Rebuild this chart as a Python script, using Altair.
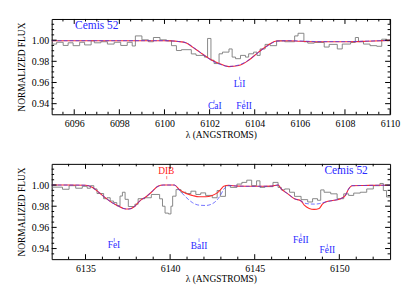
import altair as alt
import pandas as pd

FONT = "'Liberation Serif', 'Times New Roman', Times, serif"
W, H = 341, 96
Y_DOMAIN = [0.93, 1.02]
Y_MAJOR = [0.94, 0.96, 0.98, 1.00]
Y_MINOR = [0.935, 0.945, 0.95, 0.955, 0.965, 0.97, 0.975, 0.985, 0.99, 0.995, 1.005, 1.01, 1.015]

# ---------------- top panel (6095-6110) ----------------
top_xdom = [6095, 6110]
top_xmajor = [6096, 6098, 6100, 6102, 6104, 6106, 6108, 6110]
top_xminor = [6095.5, 6096.5, 6097, 6097.5, 6098.5, 6099, 6099.5, 6100.5, 6101, 6101.5,
              6102.5, 6103, 6103.5, 6104.5, 6105, 6105.5, 6106.5, 6107, 6107.5, 6108.5,
              6109, 6109.5]

top_gray_w = [6095.0, 6095.22, 6095.51, 6095.73, 6095.95, 6096.24, 6096.46, 6096.75, 6096.89,
              6097.18, 6097.47, 6097.77, 6098.06, 6098.35, 6098.57, 6098.71, 6099.0, 6099.29,
              6099.51, 6099.80, 6100.09, 6100.31, 6100.53, 6100.75, 6101.19, 6101.40, 6101.77,
              6101.91, 6102.06, 6102.20, 6102.42, 6102.57, 6102.86, 6103.0, 6103.15, 6103.37,
              6103.59, 6103.73, 6103.95, 6104.10, 6104.24, 6104.46, 6104.68, 6104.97, 6105.33,
              6105.77, 6105.92, 6106.18, 6106.35, 6106.64, 6107.08, 6107.30, 6107.66, 6107.88,
              6108.25, 6108.46, 6108.60, 6108.82, 6109.11, 6109.41, 6109.63, 6109.85, 6110.0]
top_gray_f = [0.9963, 0.9980, 0.9950, 0.9975, 0.9948, 0.9980, 0.9955, 0.9994, 0.9975,
              0.9985, 0.9963, 0.9980, 0.9950, 0.9980, 0.9945, 1.0040, 1.0003, 0.9985,
              1.0025, 1.0003, 0.9994, 0.9948, 0.9902, 0.9910, 0.9870, 0.9856, 0.9840,
              1.0016, 0.9810, 0.9779, 0.9871, 0.9887, 0.9917, 0.9840, 0.9825, 0.9856,
              0.9840, 0.9871, 0.9887, 0.9856, 0.9917, 0.9960, 0.9948, 0.9994, 0.9985,
              1.0040, 1.0065, 0.9985, 0.9972, 0.9978, 0.9935, 0.9960, 0.9917, 0.9963,
              0.9978, 1.0025, 0.9985, 0.9963, 0.9948, 0.9942, 1.0009, 0.9994, 0.9994]

top_model_w = [6095.0, 6096.0, 6097.0, 6098.0, 6099.0, 6100.0, 6100.3, 6100.6, 6100.97, 6101.26,
               6101.55, 6101.99, 6102.42, 6102.86, 6103.29, 6103.73, 6104.17, 6104.6, 6104.97,
               6105.5, 6106.0, 6107.0, 6108.0, 6109.0, 6110.0]
top_red_f = [0.9995, 0.9995, 0.9995, 0.9995, 0.9995, 0.9995, 0.9993, 0.9988, 0.9974, 0.9932,
             0.9889, 0.9825, 0.9780, 0.9750, 0.9760, 0.9810, 0.9887, 0.9955, 0.9992,
             0.9995, 0.9990, 0.9985, 0.9985, 0.9990, 0.9998]
top_blue_f = [0.9995, 0.9995, 0.9995, 0.9995, 0.9995, 0.9995, 0.9993, 0.9988, 0.9975, 0.9935,
              0.9890, 0.9822, 0.9775, 0.9752, 0.9765, 0.9812, 0.9885, 0.9950, 0.9990,
              0.9995, 0.9992, 0.9986, 0.9986, 0.9991, 0.9998]

top_lab_text = ["Cemis 52", "LiI", "CaI", "FeII"]
top_lab_w = [6097.0, 6103.33, 6102.23, 6103.53]
top_lab_f = [1.0136, 0.9582, 0.9380, 0.9380]
top_lab_color = ["#2a2aff", "#2a2aff", "#2a2aff", "#2a2aff"]
top_lab_size = [11.5, 9.5, 9.5, 9.5]
top_tick_w = [6103.33, 6102.2, 6103.53]
top_tick_f1 = [0.9655, 0.9435, 0.9435]
top_tick_f2 = [0.9625, 0.9403, 0.9403]
top_tick_color = ["#6a6aff", "#6a6aff", "#6a6aff"]

# ---------------- bottom panel (6133-6153) ----------------
bot_xdom = [6133, 6153]
bot_xmajor = [6135, 6140, 6145, 6150]
bot_xminor = [6134, 6136, 6137, 6138, 6139, 6141, 6142, 6143, 6144, 6146, 6147, 6148,
              6149, 6151, 6152]

bot_gray_w = [6133.0, 6133.64, 6134.03, 6134.42, 6134.81, 6135.10, 6135.29, 6135.49, 6135.68,
              6136.07, 6136.27, 6136.46, 6136.66, 6136.85, 6137.04, 6137.18, 6137.34, 6137.53,
              6137.92, 6138.11, 6138.50, 6138.89, 6139.38, 6139.55, 6139.70, 6139.90, 6140.05,
              6140.15, 6140.35, 6140.64, 6140.94, 6141.23, 6141.52, 6141.81, 6142.10, 6142.49,
              6142.78, 6142.97, 6143.27, 6143.56, 6143.95, 6144.24, 6144.53, 6144.82, 6145.11,
              6145.31, 6145.60, 6146.08, 6146.38, 6146.57, 6146.77, 6147.06, 6147.35, 6147.74,
              6148.13, 6148.42, 6148.71, 6148.90, 6149.10, 6149.49, 6149.87, 6150.26, 6150.55,
              6150.85, 6151.24, 6151.62, 6152.01, 6152.40, 6152.60, 6152.79, 6153.0]
bot_gray_f = [0.9980, 0.9960, 0.9994, 0.9970, 0.9988, 0.9970, 0.9994, 0.9963, 0.9920,
              0.9871, 0.9880, 0.9849, 0.9834, 0.9804, 0.9896, 0.9932, 0.9865, 0.9797,
              0.9819, 0.9871, 0.9880, 0.9911, 0.9870, 0.9800, 0.9735, 0.9727, 0.9800,
              0.9895, 0.9957, 0.9932, 0.9920, 0.9942, 0.9911, 0.9926, 0.9902, 0.9880,
              0.9948, 0.9893, 0.9994, 0.9978, 1.0009, 1.0025, 1.0046, 0.9994, 1.0040,
              0.9978, 0.9985, 1.0025, 0.9978, 0.9954, 0.9963, 0.9932, 0.9893, 0.9862,
              0.9840, 0.9871, 0.9856, 0.9954, 0.9932, 0.9917, 0.9871, 0.9917, 0.9902,
              0.9924, 0.9932, 0.9963, 0.9994, 1.0015, 0.9948, 0.9887, 0.9887]

bot_model_w = [6133.0, 6134.0, 6135.0, 6135.39, 6135.78, 6136.17, 6136.56, 6136.85, 6137.24,
               6137.53, 6137.92, 6138.11, 6138.30, 6138.50, 6138.89, 6139.28, 6139.6, 6140.25,
               6140.55, 6140.94, 6141.32, 6141.71, 6142.10, 6142.49, 6142.78, 6142.98, 6143.17,
               6143.46, 6144.0, 6145.0, 6146.0, 6146.38, 6146.57, 6146.96, 6147.35, 6147.74,
               6147.93, 6148.22, 6148.51, 6148.81, 6149.0, 6149.19, 6149.68, 6150.07, 6150.36,
               6150.55, 6150.75, 6151.5, 6152.3, 6153.0]
bot_red_f = [1.0, 1.0, 0.9998, 0.9980, 0.9932, 0.9880, 0.9834, 0.9810, 0.9779,
             0.9773, 0.9800, 0.9834, 0.9862, 0.9880, 0.9932, 0.9988, 1.0, 1.0,
             0.9957, 0.9920, 0.9902, 0.9889, 0.9889, 0.9902, 0.9926, 0.9957, 0.9988,
             0.9998, 0.9990, 0.9988, 0.9990, 1.0, 0.9963, 0.9917, 0.9871, 0.9850,
             0.9810, 0.9779, 0.9770, 0.9779, 0.9819, 0.9840, 0.9856, 0.9871, 0.9902,
             0.9963, 0.9994, 0.9996, 0.9998, 0.9998]
bot_blue_f = [1.0, 1.0, 0.9998, 0.9980, 0.9932, 0.9880, 0.9834, 0.9810, 0.9779,
              0.9773, 0.9800, 0.9834, 0.9862, 0.9880, 0.9932, 0.9988, 1.0, 1.0,
              0.9950, 0.9885, 0.9834, 0.9810, 0.9807, 0.9823, 0.9860, 0.9905, 0.9960,
              0.9995, 0.9990, 0.9988, 0.9990, 1.0, 0.9963, 0.9917, 0.9871, 0.9850,
              0.9830, 0.9822, 0.9820, 0.9824, 0.9832, 0.9840, 0.9856, 0.9871, 0.9902,
              0.9963, 0.9994, 0.9996, 0.9998, 0.9998]

bot_lab_text = ["DIB", "Cemis 52", "FeI", "BaII", "FeII", "FeII"]
bot_lab_w = [6139.77, 6150.4, 6136.68, 6141.71, 6147.73, 6149.29]
bot_lab_f = [1.0133, 1.0136, 0.9432, 0.9428, 0.9480, 0.9389]
bot_lab_color = ["#ff2020", "#2a2aff", "#2a2aff", "#2a2aff", "#2a2aff", "#2a2aff"]
bot_lab_size = [9.5, 11.5, 9.5, 9.5, 9.5, 9.5]
bot_tick_w = [6139.8, 6136.7, 6141.71, 6147.73, 6149.29]
bot_tick_f1 = [1.0085, 0.9500, 0.9497, 0.9543, 0.9444]
bot_tick_f2 = [1.0055, 0.9465, 0.9462, 0.9508, 0.9410]
bot_tick_color = ["#ff6060", "#6a6aff", "#6a6aff", "#6a6aff", "#6a6aff"]


def panel(xdom, xmajor, xminor, gw, gf, mw, rf, bf,
          lt, lw, lf, lc, ls, tw, tf1, tf2, tc):
    xs = alt.Scale(domain=xdom, nice=False, zero=False)
    ys = alt.Scale(domain=Y_DOMAIN, nice=False, zero=False)
    common = dict(ticks=False, domain=False, grid=False, labelFlush=False,
                  labelFont=FONT, titleFont=FONT, labelFontSize=10, titleFontSize=9.5,
                  labelColor="black", titleColor="black", titleFontWeight="normal")
    xax = alt.Axis(values=xmajor, labelPadding=4, format="d",
                   title="λ (ANGSTROMS)", titlePadding=1, **common)
    yax = alt.Axis(values=Y_MAJOR, labelPadding=3, format=".2f",
                   title="NORMALIZED FLUX", titlePadding=5, **common)

    def X():
        return alt.X("w:Q", scale=xs, axis=xax)

    def Y(field="f"):
        return alt.Y(field + ":Q", scale=ys, axis=yax)

    gray = alt.Chart(pd.DataFrame({"w": gw, "f": gf})).mark_line(
        interpolate="step-after", color="#7a7a7a", strokeWidth=0.9, clip=True
    ).encode(x=X(), y=Y())
    mdf = pd.DataFrame({"w": mw, "r": rf, "b": bf})
    red = alt.Chart(mdf).mark_line(
        interpolate="monotone", color="#ff2a2a", strokeWidth=1.1, clip=True
    ).encode(x=X(), y=Y("r"))
    blue = alt.Chart(mdf).mark_line(
        interpolate="monotone", color="#3a3aff", strokeWidth=1, strokeDash=[4, 2],
        opacity=0.7, clip=True
    ).encode(x=X(), y=Y("b"))

    labels = alt.Chart(pd.DataFrame({"w": lw, "f": lf, "t": lt, "c": lc, "s": ls})).mark_text(
        baseline="middle", align="center", font=FONT
    ).encode(x=X(), y=Y(), text="t:N",
             color=alt.Color("c:N", scale=None), size=alt.Size("s:Q", scale=None))
    lticks = alt.Chart(pd.DataFrame({"w": tw, "f": tf1, "f2": tf2, "c": tc})).mark_rule(
        strokeWidth=0.8
    ).encode(x=X(), y=Y(), y2="f2:Q", color=alt.Color("c:N", scale=None))

    # inward frame ticks
    def xt(vals, size):
        df = pd.DataFrame({"w": vals})
        bottom = alt.Chart(df).mark_rule(color="black", strokeWidth=1).encode(
            x=X(), y=alt.value(H), y2=alt.value(H - size))
        topr = alt.Chart(df).mark_rule(color="black", strokeWidth=1).encode(
            x=X(), y=alt.value(0), y2=alt.value(size))
        return [bottom, topr]

    def yt(vals, size):
        df = pd.DataFrame({"f": vals})
        left = alt.Chart(df).mark_rule(color="black", strokeWidth=1).encode(
            y=Y(), x=alt.value(0), x2=alt.value(size))
        right = alt.Chart(df).mark_rule(color="black", strokeWidth=1).encode(
            y=Y(), x=alt.value(W), x2=alt.value(W - size))
        return [left, right]

    axes = xt(xmajor, 5) + xt(xminor, 2.5) + yt(Y_MAJOR, 5) + yt(Y_MINOR, 2.5)
    return alt.layer(gray, red, blue, lticks, labels, *axes).properties(width=W, height=H)


top = panel(top_xdom, top_xmajor, top_xminor, top_gray_w, top_gray_f,
            top_model_w, top_red_f, top_blue_f,
            top_lab_text, top_lab_w, top_lab_f, top_lab_color, top_lab_size,
            top_tick_w, top_tick_f1, top_tick_f2, top_tick_color)
bot = panel(bot_xdom, bot_xmajor, bot_xminor, bot_gray_w, bot_gray_f,
            bot_model_w, bot_red_f, bot_blue_f,
            bot_lab_text, bot_lab_w, bot_lab_f, bot_lab_color, bot_lab_size,
            bot_tick_w, bot_tick_f1, bot_tick_f2, bot_tick_color)

chart = alt.vconcat(top, bot, spacing=50, bounds="flush").properties(
    padding={"left": 8, "top": 9, "right": 0, "bottom": 2}
).configure_view(
    stroke="black", strokeWidth=1
).configure_axis(
    labelFont=FONT, titleFont=FONT, labelFontSize=10, titleFontSize=9.5,
    labelColor="black", titleColor="black", titleFontWeight="normal"
).configure_text(font=FONT)

chart.save("out.html", embed_options={"renderer": "svg", "actions": False})
